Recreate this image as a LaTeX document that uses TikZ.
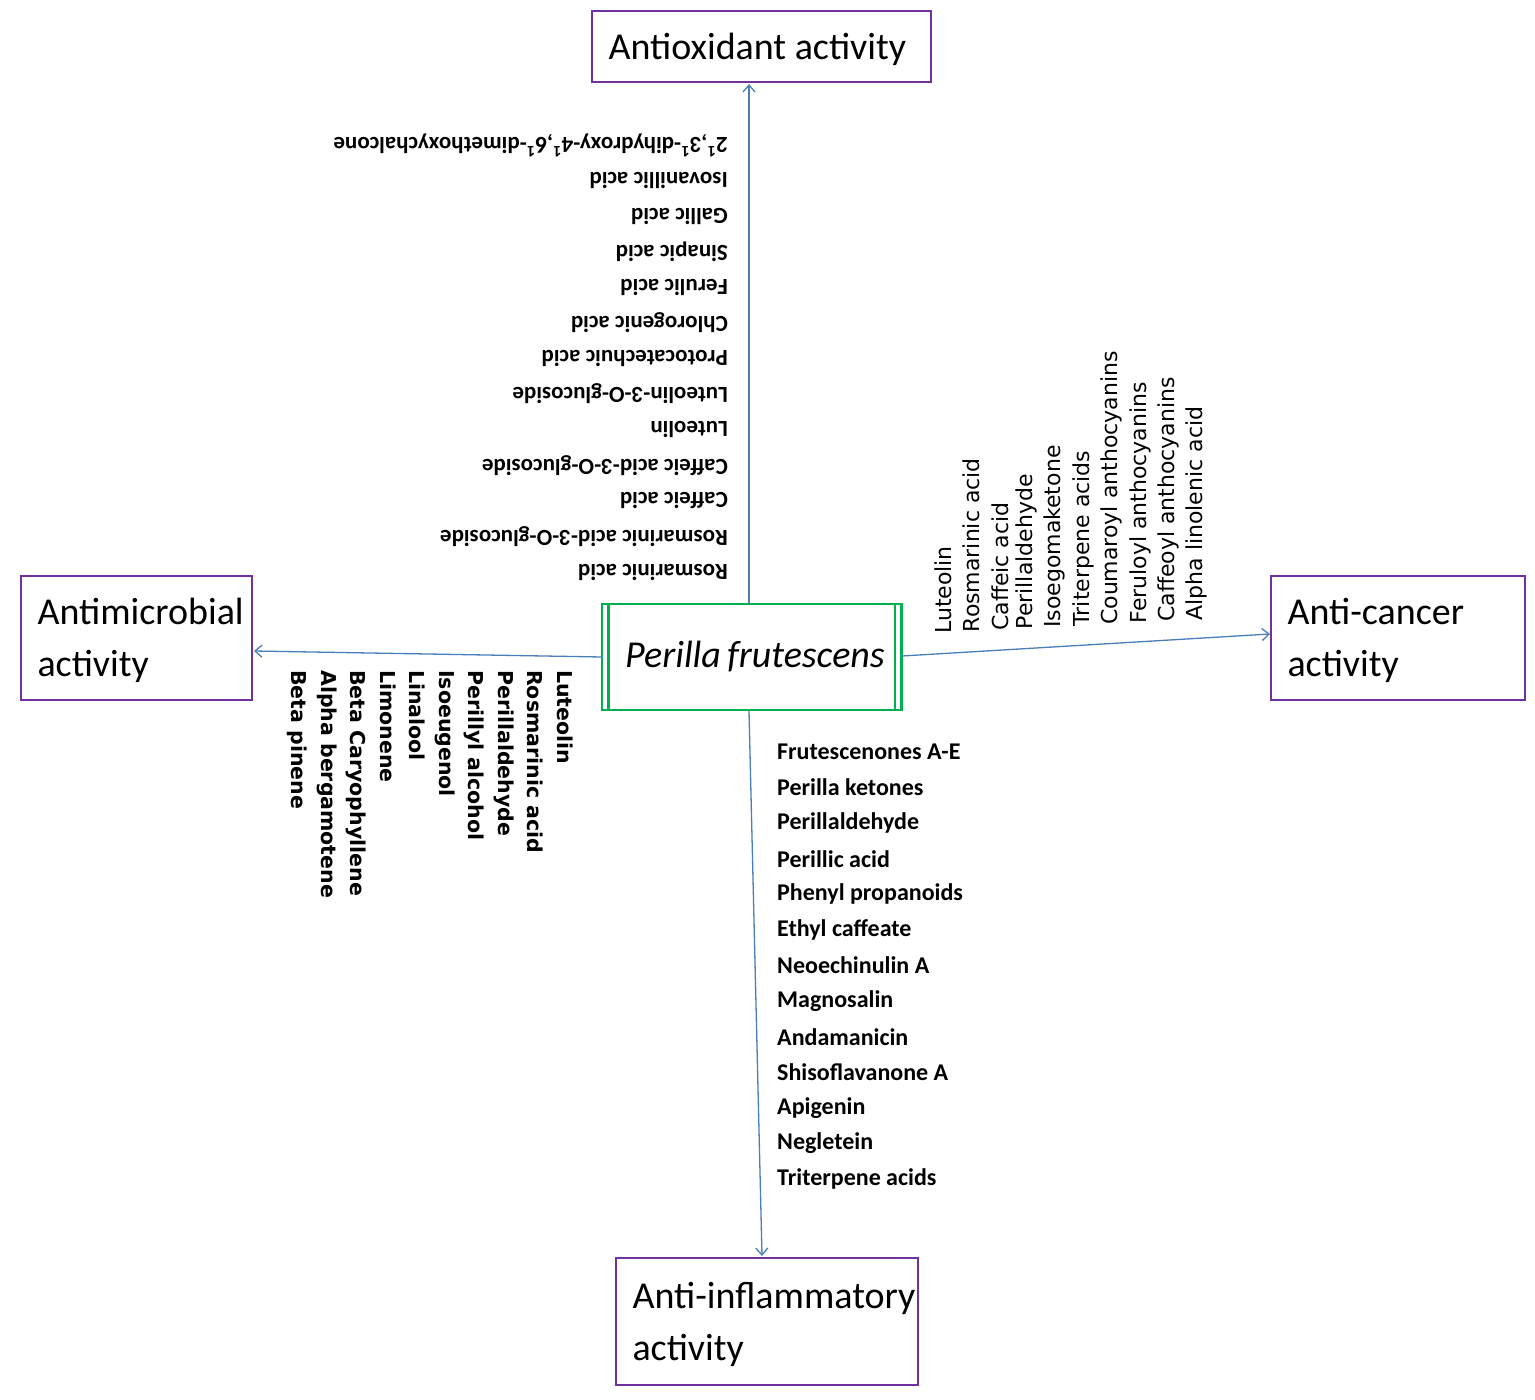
\documentclass[tikz,border=0pt]{standalone}
\usetikzlibrary{arrows.meta}
\usepackage{fontspec}
\setmainfont{Carlito}
\newfontfamily\dvs{DejaVu Sans}
\begin{document}
\begin{tikzpicture}[x=1pt,y=-1pt,
 box/.style={draw=purp,line width=1.6pt,inner sep=0pt},
 arr/.style={draw=arrb,line width=1.3pt,-{Straight Barb[length=7pt,width=12pt]}},
 up/.style={rotate=180,anchor=west,inner sep=0pt,font=\bfseries\fontsize{23}{23}\selectfont},
 lf/.style={rotate=-90,anchor=north west,inner sep=0pt,font=\dvs\bfseries\fontsize{20.5}{20.5}\selectfont},
 rt/.style={rotate=90,anchor=south west,inner sep=0pt,font=\dvs\fontsize{22}{22}\selectfont},
 dn/.style={anchor=west,inner sep=0pt,font=\bfseries\fontsize{24}{24}\selectfont},
 ttl/.style={font=\fontsize{38}{52}\selectfont,align=left,anchor=west}]
\definecolor{purp}{HTML}{7030A0}\definecolor{grn}{HTML}{00B050}\definecolor{arrb}{HTML}{4A7EBB}
\useasboundingbox (0,0) rectangle (1535,1400);
\draw[box] (592,11) rectangle (931,82);
\node[ttl] (ao) at (605,49) {Antioxidant activity};
\coordinate (aob) at (749,84);
\draw[box] (21,576) rectangle (252,700);
\node[ttl] (am) at (34,640) {Antimicrobial\\activity};
\coordinate (amr) at (254,651);
\draw[box] (1271,576) rectangle (1525,700);
\node[ttl] (ac) at (1284,640) {Anti-cancer\\activity};
\coordinate (acl) at (1270,634);
\draw[box] (616,1258) rectangle (918,1385);
\node[ttl] (ai) at (629,1324) {Anti-inflammatory\\activity};
\coordinate (ait) at (762,1256);
\node[draw=grn,line width=2.5pt,minimum width=293pt,minimum height=106pt,inner sep=0pt,font=\itshape\fontsize{38}{38}\selectfont] (pf) at (755,657) {Perilla\,frutescens};
\coordinate (pt) at (749,604);\coordinate (pl) at (602,657);\coordinate (pr) at (902,656);\coordinate (pb) at (749,711);
\draw[box,draw=grn,line width=2.5pt] (602,604) rectangle (895,710);
\draw[arr] (pt) -- (aob);
\draw[arr] (pl) -- (amr);
\draw[arr] (pr) -- (acl);
\draw[arr] (pb) -- (ait);
% upside-down list
\foreach \t [count=\i] in {Rosmarinic acid,Rosmarinic acid-3-O-glucoside,Caffeic acid,Caffeic acid-3-O-glucoside,Luteolin,Luteolin-3-O-glucoside,Protocatechuic acid,Chlorogenic acid,Ferulic acid,Sinapic acid,Gallic acid,Isovanillic acid}
  \node[up] (u\i) at (728,{572-35.6*(\i-1)}) {\t};
\node[up] (u13) at (728,145) {2\textsuperscript{1},3\textsuperscript{1}-dihydroxy-4\textsuperscript{1},6\textsuperscript{1}-dimethoxychalcone};
% left list
\foreach \t [count=\i] in {Luteolin,Rosmarinic acid,Perillaldehyde,Perillyl alcohol,Isoeugenol,Linalool,Limonene,Beta Caryophyllene,Alpha bergamotene,Beta pinene}
  \node[lf] (l\i) at ({573-29.5*(\i-1)},670) {\t};
% right list
\foreach \t [count=\i] in {Luteolin,Rosmarinic acid,Caffeic acid,Perillaldehyde,Isoegomaketone,Triterpene acids,Coumaroyl anthocyanins,Feruloyl anthocyanins,Caffeoyl anthocyanins,Alpha linolenic acid}
  \node[rt] (r\i) at ({952+28.4*(\i-1)},{634-1.5*(\i-1)}) {\t};
% down list
\foreach \t [count=\i] in {Frutescenones A-E,Perilla ketones,Perillaldehyde,Perillic acid,Phenyl propanoids,Ethyl caffeate,Neoechinulin A,Magnosalin,Andamanicin,Shisoflavanone A,Apigenin,Negletein,Triterpene acids}
  \node[dn] (d\i) at (777,{752+35.6*(\i-1)}) {\t};
\end{tikzpicture}
\end{document}
